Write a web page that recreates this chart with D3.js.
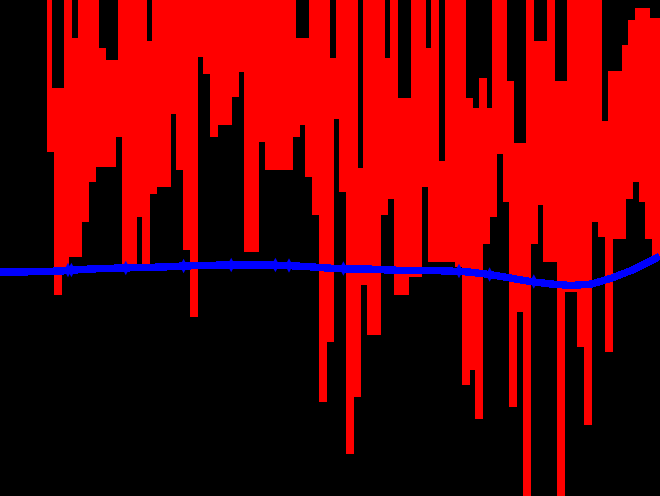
<!DOCTYPE html>
<html>
<head>
<meta charset="utf-8">
<script src="https://cdn.jsdelivr.net/npm/d3@7"></script>
<style>
  html, body { margin: 0; padding: 0; background: #000; overflow: hidden; }
  svg { display: block; }
</style>
</head>
<body>
<svg id="chart" width="660" height="496"></svg>
<script>
// ---- data ----
// time steps 0..194; the raw series starts at step 14
const rawStart = 14;
const rawValues = [
  516,346, 406,203, 406,231, 516,241, 456,241, 516,276, 516,316, 516,331, 446,331, 434,331,
  434,361, 516,231, 516,233, 516,281, 516,233, 453,304, 516,311, 516,311, 516,384, 516,328,
  516,248, 516,181, 516,441, 516,424, 516,361, 516,373, 516,373, 516,401, 516,426, 516,246,
  516,246, 516,356, 516,328, 516,328, 516,328, 516,328, 516,361, 456,373, 456,321, 516,283,
  516,96,  516,156, 436,379, 516,306, 516,44,  516,101, 326,213, 516,163, 516,163, 516,283,
  436,299, 516,203, 396,203, 396,221, 516,221, 516,311, 446,236, 516,236, 333,236, 516,236,
  516,231, 516,113, 396,128, 386,79,  416,254, 386,281, 516,344, 516,296, 413,91,  351,186,
  351,-14, 516,254, 453,293, 453,236, 516,236, 413,-14, 413,206, 516,206, 516,151, 516,73,
  516,276, 516,261, 373,146, 423,259, 423,259, 449,299, 474,316, 486,296, 486,259, 476,241,
  476
];
// smoothed series, sampled every 6 steps (last at step 194)
const smoothSteps = [0,6,12,18,24,30,36,42,48,54,60,66,72,78,84,90,96,102,108,114,120,126,132,138,144,150,156,162,168,174,180,186,192,194];
const smoothValues = [224,224,224.5,225,226.5,227.5,228,228.5,229,230,230.5,231,231,231,230.5,229.5,228,227,227,226,225.5,225.5,225,224,221.5,218,214.5,212,210.5,212,218,226,236,240];
// small kinks on the smoothed line
const kinkSteps = [20,21,37,54,68,81,85,101,135,144,157];
const kinkValues = [226,226,228,230,231,231,230.5,227.5,225,221.5,214.5];

// ---- chart ----
const W = 660, H = 496;
const svg = d3.select("#chart");
svg.append("rect").attr("width", W).attr("height", H).attr("fill", "#000");

const x = d3.scaleLinear().domain([0, 194]).range([0, 659.6]);
const y = d3.scaleLinear().domain([0, 496]).range([H, 0]);

const raw = rawValues.map((v, i) => ({t: rawStart + i, v}));
const smooth = smoothSteps.map((t, i) => ({t, v: smoothValues[i]}));

const rawLine = d3.line().x(d => x(d.t)).y(d => y(d.v)).curve(d3.curveStep);
const line = d3.line().x(d => x(d.t)).y(d => y(d.v));

svg.append("path")
  .datum(raw)
  .attr("d", rawLine)
  .attr("fill", "none")
  .attr("stroke", "#ff0000")
  .attr("stroke-width", 4.5)
  .attr("stroke-linecap", "square")
  .attr("shape-rendering", "crispEdges");

svg.append("path")
  .datum(smooth)
  .attr("d", line)
  .attr("fill", "none")
  .attr("stroke", "#0000ff")
  .attr("stroke-width", 7.4)
  .attr("stroke-linejoin", "round")
  .attr("shape-rendering", "crispEdges");

const diamond = d3.symbol().type(d3.symbolDiamond).size(50);
svg.selectAll(".kink")
  .data(kinkSteps.map((t, i) => ({t, v: kinkValues[i]})))
  .join("path")
  .attr("class", "kink")
  .attr("d", diamond)
  .attr("transform", d => `translate(${x(d.t)},${y(d.v)}) scale(1,1.1)`)
  .attr("fill", "#0000ff");
</script>
</body>
</html>
